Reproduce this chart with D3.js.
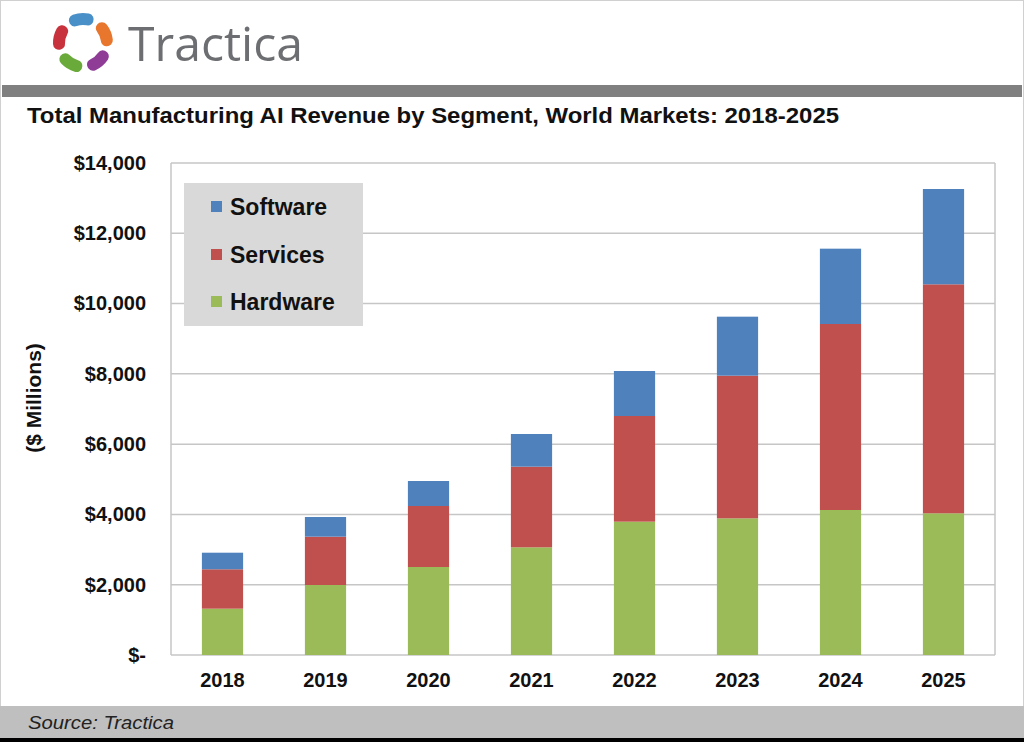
<!DOCTYPE html>
<html><head><meta charset="utf-8">
<script src="https://cdn.jsdelivr.net/npm/d3@7"></script>
<style>html,body{margin:0;padding:0;background:#fff;}svg{display:block;}</style>
</head><body>
<svg id="c" width="1024" height="742"></svg>
<script>
const years = ["2018","2019","2020","2021","2022","2023","2024","2025"];
const hardware = [1318, 1992, 2504, 3064, 3794, 3889, 4126, 4032];
const services = [1121, 1375, 1736, 2295, 3007, 4059, 5293, 6516];
const software = [472, 560, 711, 930, 1280, 1679, 2143, 2712];
const seriesNames = ["Hardware","Services","Software"];
const seriesColors = ["#9bbb59","#c0504d","#4f81bd"];
const yTicks = [0,2000,4000,6000,8000,10000,12000,14000];
const title = "Total Manufacturing AI Revenue by Segment, World Markets: 2018-2025";

(function(){
const svg = d3.select("#c");
const W = 1024, H = 742;
const font = "'Liberation Sans', Arial, sans-serif";

function fit(sel, w){
  const n = sel.node();
  const cur = n.getComputedTextLength();
  if (cur > 0) sel.attr("textLength", w).attr("lengthAdjust","spacingAndGlyphs");
  return sel;
}

// frame
svg.append("rect").attr("x",0.5).attr("y",0.5).attr("width",W-1).attr("height",H-1)
  .attr("fill","#fff").attr("stroke","#d0d0d0");
svg.append("rect").attr("x",2).attr("y",85).attr("width",1020).attr("height",12).attr("fill","#808080");
svg.append("rect").attr("x",0).attr("y",706).attr("width",W).attr("height",32).attr("fill","#bfbfbf");
svg.append("rect").attr("x",0).attr("y",738).attr("width",W).attr("height",4).attr("fill","#000");
fit(svg.append("text").attr("x",28).attr("y",729).attr("font-family",font).attr("font-style","italic")
  .attr("font-size",19).attr("fill","#222").text("Source: Tractica"), 146);

// logo
const logo = svg.append("g").attr("transform","translate(83,43)");
const petalColors = ["#4a90c8","#e8762c","#8e3c96","#6aaa3a","#c8323c"];
const petalArc = d3.arc().innerRadius(18).outerRadius(30).cornerRadius(6);
petalColors.forEach((c,i)=>{
  const a0 = -0.6 + i*2*Math.PI/5;
  logo.append("path").attr("d", petalArc({startAngle:a0, endAngle:a0+1.05})).attr("fill",c);
});
fit(svg.append("text").attr("x",128).attr("y",61).attr("font-family","'Open Sans', 'Noto Sans', sans-serif")
  .attr("font-size",48).attr("fill","#6d6e71").text("Tractica"), 175);

// title
fit(svg.append("text").attr("x",27).attr("y",123).attr("font-family",font).attr("font-weight","bold")
  .attr("font-size",22).attr("fill","#111").text(title), 812);

// chart
const pL = 171, pR = 995, pT = 163, pB = 655;
const x = d3.scaleBand().domain(years).range([pL,pR]).paddingInner(0.6).paddingOuter(0.3);
const y = d3.scaleLinear().domain([0,14000]).range([pB,pT]);

const g = svg.append("g");
g.selectAll("line.grid").data(yTicks).join("line").attr("class","grid")
  .attr("x1",pL).attr("x2",pR).attr("y1",d=>y(d)).attr("y2",d=>y(d))
  .attr("stroke","#c6c6c6").attr("stroke-width",1.5);
g.append("line").attr("x1",pL).attr("x2",pL).attr("y1",pT).attr("y2",pB).attr("stroke","#c6c6c6").attr("stroke-width",1.5);
g.append("line").attr("x1",pR).attr("x2",pR).attr("y1",pT).attr("y2",pB).attr("stroke","#c6c6c6").attr("stroke-width",1.5);

const rows = years.map((yr,i)=>({year:yr, Hardware:hardware[i], Services:services[i], Software:software[i]}));
const stack = d3.stack().keys(seriesNames)(rows);
g.selectAll("g.s").data(stack).join("g").attr("class","s")
  .attr("fill",(d,i)=>seriesColors[i])
  .selectAll("rect").data(d=>d).join("rect")
  .attr("x",d=>x(d.data.year)).attr("width",x.bandwidth())
  .attr("y",d=>y(d[1])).attr("height",d=>y(d[0])-y(d[1]));

// y axis
const yAxis = d3.axisLeft(y).tickValues(yTicks).tickSize(0).tickPadding(0)
  .tickFormat(d=> d===0 ? "$-" : "$" + d3.format(",")(d));
const ya = svg.append("g").attr("transform","translate(146,0)").call(yAxis);
ya.select(".domain").remove();
ya.selectAll("text").attr("font-family",font).attr("font-weight","bold").attr("font-size",20).attr("fill","#111");

// x axis
const xAxis = d3.axisBottom(x).tickSize(0).tickPadding(0);
const xa = svg.append("g").attr("transform","translate(0,673)").call(xAxis);
xa.select(".domain").remove();
xa.selectAll("text").attr("font-family",font).attr("font-weight","bold").attr("font-size",20).attr("fill","#111");

// y label
svg.append("text").attr("transform","translate(41,398) rotate(-90)").attr("text-anchor","middle")
  .attr("font-family",font).attr("font-weight","bold").attr("font-size",21).attr("fill","#111").text("($ Millions)");

// legend
const lg = svg.append("g");
lg.append("rect").attr("x",184).attr("y",183).attr("width",179).attr("height",143).attr("fill","#d9d9d9");
const legendItems = ["Software","Services","Hardware"];
const legendY = [207,255,302];
legendItems.forEach((n,i)=>{
  const ci = seriesNames.indexOf(n);
  lg.append("rect").attr("x",211).attr("y",legendY[i]-6).attr("width",11).attr("height",11).attr("fill",seriesColors[ci]);
  lg.append("text").attr("x",230).attr("y",legendY[i]).attr("dy","0.35em")
    .attr("font-family",font).attr("font-weight","bold").attr("font-size",23).attr("fill","#111").text(n);
});
})();
</script>
</body></html>
